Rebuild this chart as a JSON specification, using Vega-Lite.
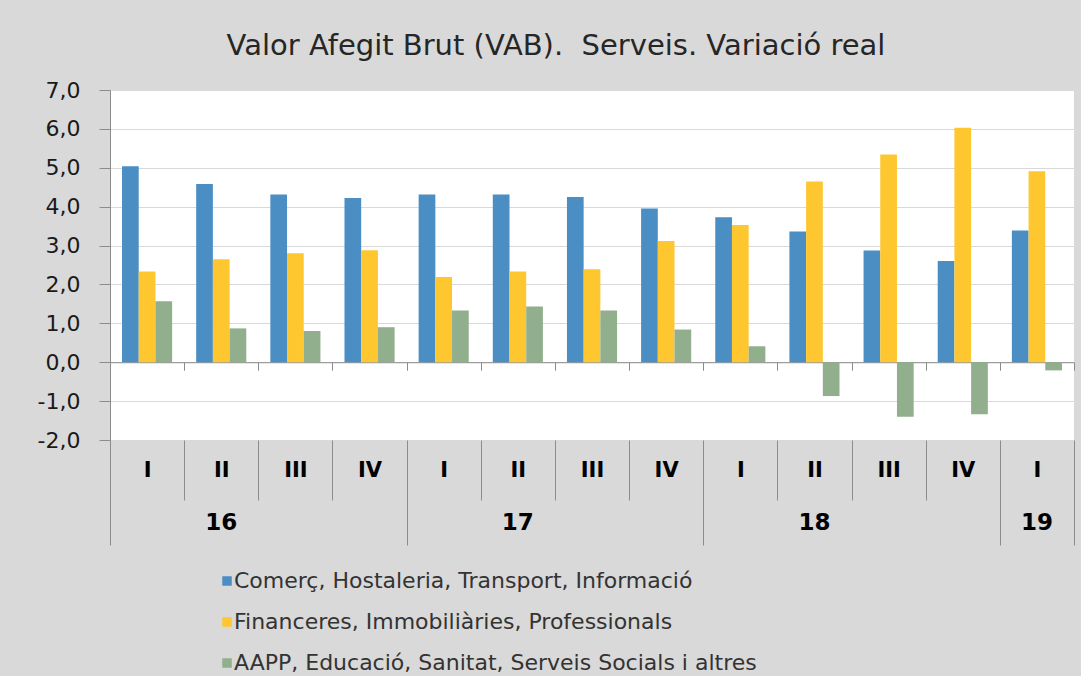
{
  "$schema": "https://vega.github.io/schema/vega-lite/v6.json",
  "width": 964,
  "height": 350,
  "autosize": "none",
  "padding": {"left": 110, "top": 90, "right": 7, "bottom": 236},
  "background": "#d9d9d9",
  "title": {
    "text": "Valor Afegit Brut (VAB).\u00a0 Serveis. Variació real",
    "font": "DejaVu Sans",
    "fontSize": 29,
    "fontWeight": "normal",
    "color": "#262626",
    "anchor": "middle",
    "frame": "group",
    "dx": -36,
    "offset": -11,
    "baseline": "bottom"
  },
  "config": {
    "view": {"fill": "#ffffff", "stroke": null},
    "font": "DejaVu Sans"
  },
  "data": {
    "values": [
      {"period": "16-I", "series": "Comerç, Hostaleria, Transport, Informació", "value": 5.04},
      {"period": "16-I", "series": "Financeres, Immobiliàries, Professionals", "value": 2.33},
      {"period": "16-I", "series": "AAPP, Educació, Sanitat, Serveis Socials i altres", "value": 1.57},
      {"period": "16-II", "series": "Comerç, Hostaleria, Transport, Informació", "value": 4.58},
      {"period": "16-II", "series": "Financeres, Immobiliàries, Professionals", "value": 2.65},
      {"period": "16-II", "series": "AAPP, Educació, Sanitat, Serveis Socials i altres", "value": 0.87},
      {"period": "16-III", "series": "Comerç, Hostaleria, Transport, Informació", "value": 4.31},
      {"period": "16-III", "series": "Financeres, Immobiliàries, Professionals", "value": 2.80},
      {"period": "16-III", "series": "AAPP, Educació, Sanitat, Serveis Socials i altres", "value": 0.80},
      {"period": "16-IV", "series": "Comerç, Hostaleria, Transport, Informació", "value": 4.22},
      {"period": "16-IV", "series": "Financeres, Immobiliàries, Professionals", "value": 2.88},
      {"period": "16-IV", "series": "AAPP, Educació, Sanitat, Serveis Socials i altres", "value": 0.90},
      {"period": "17-I", "series": "Comerç, Hostaleria, Transport, Informació", "value": 4.31},
      {"period": "17-I", "series": "Financeres, Immobiliàries, Professionals", "value": 2.19},
      {"period": "17-I", "series": "AAPP, Educació, Sanitat, Serveis Socials i altres", "value": 1.33},
      {"period": "17-II", "series": "Comerç, Hostaleria, Transport, Informació", "value": 4.31},
      {"period": "17-II", "series": "Financeres, Immobiliàries, Professionals", "value": 2.33},
      {"period": "17-II", "series": "AAPP, Educació, Sanitat, Serveis Socials i altres", "value": 1.43},
      {"period": "17-III", "series": "Comerç, Hostaleria, Transport, Informació", "value": 4.25},
      {"period": "17-III", "series": "Financeres, Immobiliàries, Professionals", "value": 2.39},
      {"period": "17-III", "series": "AAPP, Educació, Sanitat, Serveis Socials i altres", "value": 1.33},
      {"period": "17-IV", "series": "Comerç, Hostaleria, Transport, Informació", "value": 3.95},
      {"period": "17-IV", "series": "Financeres, Immobiliàries, Professionals", "value": 3.12},
      {"period": "17-IV", "series": "AAPP, Educació, Sanitat, Serveis Socials i altres", "value": 0.84},
      {"period": "18-I", "series": "Comerç, Hostaleria, Transport, Informació", "value": 3.73},
      {"period": "18-I", "series": "Financeres, Immobiliàries, Professionals", "value": 3.53},
      {"period": "18-I", "series": "AAPP, Educació, Sanitat, Serveis Socials i altres", "value": 0.41},
      {"period": "18-II", "series": "Comerç, Hostaleria, Transport, Informació", "value": 3.36},
      {"period": "18-II", "series": "Financeres, Immobiliàries, Professionals", "value": 4.65},
      {"period": "18-II", "series": "AAPP, Educació, Sanitat, Serveis Socials i altres", "value": -0.87},
      {"period": "18-III", "series": "Comerç, Hostaleria, Transport, Informació", "value": 2.87},
      {"period": "18-III", "series": "Financeres, Immobiliàries, Professionals", "value": 5.34},
      {"period": "18-III", "series": "AAPP, Educació, Sanitat, Serveis Socials i altres", "value": -1.40},
      {"period": "18-IV", "series": "Comerç, Hostaleria, Transport, Informació", "value": 2.60},
      {"period": "18-IV", "series": "Financeres, Immobiliàries, Professionals", "value": 6.03},
      {"period": "18-IV", "series": "AAPP, Educació, Sanitat, Serveis Socials i altres", "value": -1.34},
      {"period": "19-I", "series": "Comerç, Hostaleria, Transport, Informació", "value": 3.39},
      {"period": "19-I", "series": "Financeres, Immobiliàries, Professionals", "value": 4.91},
      {"period": "19-I", "series": "AAPP, Educació, Sanitat, Serveis Socials i altres", "value": -0.21}
    ]
  },
  "resolve": {"axis": {"x": "independent"}},
  "layer": [
    {
      "mark": {"type": "bar"},
      "encoding": {
        "x": {
          "field": "period",
          "type": "nominal",
          "sort": null,
          "scale": {"paddingInner": 0, "paddingOuter": 0},
          "axis": {
            "orient": "bottom",
            "title": null,
            "domain": false,
            "grid": false,
            "tickBand": "extent",
            "tickSize": 105,
            "tickColor": "#8c8c8c",
            "tickWidth": 1,
            "tickDash": {
              "condition": {"test": "datum.extra || indexof(['16-IV','17-IV','18-IV','19-I'], datum.value) >= 0", "value": []},
              "value": [60, 200]
            },
            "labelExpr": "split(datum.value, '-')[1]",
            "labelAngle": 0,
            "labelPadding": -75,
            "labelBaseline": "middle",
            "labelFont": "DejaVu Sans",
            "labelFontWeight": "bold",
            "labelFontSize": 21,
            "labelColor": "#000000"
          }
        },
        "xOffset": {
          "field": "series",
          "type": "nominal",
          "sort": null,
          "scale": {"paddingInner": 0, "paddingOuter": 0.72}
        },
        "y": {
          "field": "value",
          "type": "quantitative",
          "scale": {"domain": [-2, 7], "nice": false, "zero": false},
          "axis": {
            "title": null,
            "values": [-2, -1, 0, 1, 2, 3, 4, 5, 6, 7],
            "labelExpr": "replace(replace(format(datum.value, '.1f'), '.', ','), '\u2212', '-')",
            "grid": true,
            "gridColor": "#d9d9d9",
            "gridWidth": 1,
            "domain": true,
            "domainColor": "#8c8c8c",
            "tickColor": "#8c8c8c",
            "tickSize": 11,
            "labelPadding": 19,
            "labelFont": "DejaVu Sans",
            "labelFontSize": 22,
            "labelColor": "#1a1a1a"
          }
        },
        "color": {
          "field": "series",
          "type": "nominal",
          "scale": {
            "domain": [
              "Comerç, Hostaleria, Transport, Informació",
              "Financeres, Immobiliàries, Professionals",
              "AAPP, Educació, Sanitat, Serveis Socials i altres"
            ],
            "range": ["#4a8ec4", "#fec72f", "#91ae8d"]
          },
          "legend": {
            "orient": "none",
            "legendX": 106,
            "legendY": 480,
            "direction": "vertical",
            "title": null,
            "symbolType": "square",
            "symbolSize": 90,
            "symbolStrokeWidth": 0,
            "labelFont": "DejaVu Sans",
            "labelFontSize": 22,
            "labelColor": "#333333",
            "labelOffset": -4,
            "labelLimit": 0,
            "rowPadding": 19
          }
        }
      }
    },
    {
      "mark": {"type": "bar", "opacity": 0},
      "encoding": {
        "x": {
          "field": "period",
          "type": "nominal",
          "sort": null,
          "scale": {"paddingInner": 0, "paddingOuter": 0},
          "axis": {
            "orient": "bottom",
            "offset": -77.78,
            "title": null,
            "labels": false,
            "grid": false,
            "domain": true,
            "domainColor": "#8c8c8c",
            "domainWidth": 1,
            "tickBand": "extent",
            "tickSize": 8,
            "tickColor": "#8c8c8c"
          }
        }
      }
    },
    {
      "mark": {"type": "bar", "opacity": 0},
      "encoding": {
        "x": {
          "field": "period",
          "type": "nominal",
          "sort": null,
          "scale": {"paddingInner": 0, "paddingOuter": 0},
          "axis": {
            "orient": "bottom",
            "values": ["16-II", "17-II", "18-II", "19-I"],
            "title": null,
            "ticks": false,
            "domain": false,
            "grid": false,
            "labelExpr": "split(datum.value, '-')[0]",
            "labelAngle": 0,
            "labelPadding": 82,
            "labelBaseline": "middle",
            "labelFont": "DejaVu Sans",
            "labelFontWeight": "bold",
            "labelFontSize": 23,
            "labelColor": "#000000",
            "encode": {
              "labels": {
                "update": {
                  "dx": [
                    {"test": "datum.value !== '19-I'", "signal": "bandwidth('x') / 2"},
                    {"value": 0}
                  ]
                }
              }
            }
          }
        }
      }
    }
  ]
}
